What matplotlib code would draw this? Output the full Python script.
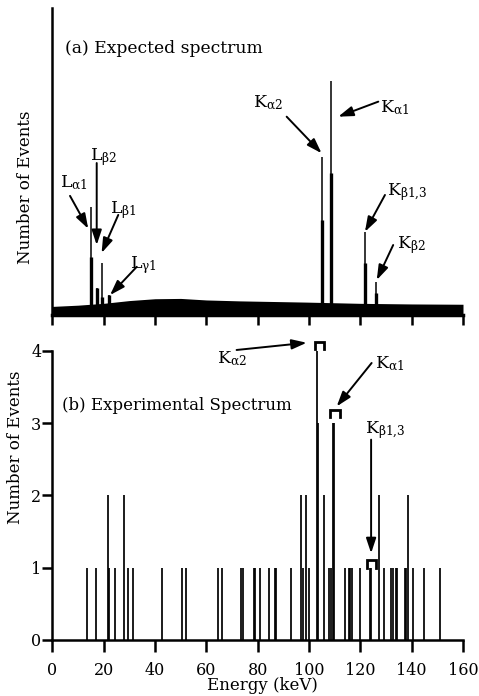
import matplotlib
matplotlib.use("Agg")
import matplotlib.pyplot as plt

plt.rcParams['font.family'] = ['DejaVu Serif']
plt.rcParams['mathtext.fontset'] = 'dejavuserif'
plt.rcParams['mathtext.default'] = 'regular'

# ---------------- data ----------------
# (a) expected spectrum: continuum and characteristic lines (arbitrary units)
continuum_energy = [0, 10, 20, 30, 40, 50, 60, 73, 99, 120, 140, 160]
continuum_level = [2.8, 3.2, 3.8, 4.7, 5.3, 5.4, 4.9, 4.6, 4.2, 3.8, 3.6, 3.5]

peak_names = ["La1", "Lb2", "Lb1", "Lg1", "Ka2", "Ka1", "Kb13", "Kb2"]
peak_energy = [15.1, 17.6, 19.2, 22.1, 105.2, 108.6, 121.8, 126.1]
peak_height = [35.3, 8.8, 16.8, 6.5, 51.6, 76.3, 27.1, 10.8]
peak_core_height = [19.0, 8.8, 6.0, 6.5, 30.9, 46.4, 16.8, 7.1]

# (b) experimental spectrum: energy of each bin with events, and counts
exp_energy = [13.5, 17.0, 21.7, 22.2, 24.3, 27.8, 29.5, 31.6, 42.6, 50.6, 52.2,
              64.7, 66.3, 73.7, 74.1, 78.7, 79.1, 81.0, 84.3, 86.7, 87.1, 93.1,
              97.0, 97.6, 98.7, 99.9, 103.1, 103.7, 106.0, 107.9, 108.4, 109.2,
              109.8, 114.0, 115.6, 116.1, 116.8, 119.7, 123.9, 124.2, 127.4,
              129.2, 131.9, 132.8, 133.9, 134.4, 137.4, 137.9, 138.7, 140.4,
              144.9, 151.0]
exp_counts = [1, 1, 2, 1, 1, 2, 1, 1, 1, 1, 1,
              1, 1, 1, 1, 1, 1, 1, 1, 1, 1, 1,
              2, 1, 2, 1, 4, 3, 2, 1, 1, 3,
              3, 1, 1, 1, 1, 1, 1, 1, 2,
              1, 1, 1, 1, 1, 1, 1, 2, 1,
              1, 1]

x_ticks = [0, 20, 40, 60, 80, 100, 120, 140, 160]
y_ticks_b = [0, 1, 2, 3, 4]

# labels for (a): text, text position, arrow tail, arrow head
a_labels = [r"L$_{\alpha1}$", r"L$_{\beta2}$", r"L$_{\beta1}$", r"L$_{\gamma1}$",
            r"K$_{\alpha2}$", r"K$_{\alpha1}$", r"K$_{\beta1{,}3}$", r"K$_{\beta2}$"]
a_text_xy = [(3.0, 41.7), (14.7, 50.5), (22.5, 33.2), (30.3, 15.3),
             (78.2, 67.8), (127.7, 66.1), (130.4, 39.1), (134.3, 21.8)]
a_tail = [(6.9, 38.8), (17.3, 49.5), (25.7, 32.6), (32.9, 15.7),
          (91.3, 64.6), (127.0, 69.5), (129.6, 39.1), (132.8, 22.8)]
a_head = [(14.0, 28.1), (17.3, 22.8), (19.2, 20.2), (22.5, 6.5),
          (104.9, 52.7), (111.4, 64.6), (121.8, 27.1), (126.4, 11.4)]

# labels for (b)
b_labels = [r"K$_{\alpha2}$", r"K$_{\alpha1}$", r"K$_{\beta1{,}3}$"]
b_text_xy = [(64.2, 3.83), (125.7, 3.76), (121.8, 2.86)]
b_tail = [(71.8, 4.01), (124.4, 3.83), (124.2, 2.77)]
b_head = [(99.1, 4.11), (110.8, 3.23), (124.2, 1.20)]
bracket_center = [104.1, 110.25, 124.4]
bracket_top = [4.12, 3.18, 1.10]

# ---------------- figure ----------------
W, H = 479, 696
fig = plt.figure(figsize=(W / 100, H / 100), dpi=100)
left = 52.3 / W
width = (463 - 52.3) / W
ax1 = fig.add_axes([left, 1 - 315 / H, width, 307 / H])
ax2 = fig.add_axes([left, 1 - 640 / H, width, (640 - 350.7) / H])

# ---- (a)
ax1.fill_between(continuum_energy, 0, continuum_level, color='black', lw=0)
ax1.vlines(peak_energy, 0, peak_height, color='black', lw=1.1)
ax1.vlines(peak_energy, 0, peak_core_height, color='black', lw=2.4)
ax1.set_xlim(0, 160)
ax1.set_ylim(0, 100)
ax1.set_xticks(x_ticks)
ax1.set_xticklabels([])
ax1.set_yticks([])
for s in ['top', 'right']:
    ax1.spines[s].set_visible(False)
ax1.spines['left'].set_linewidth(1.8)
ax1.spines['bottom'].set_linewidth(2.5)
ax1.tick_params(axis='x', direction='out', length=7, width=1.8)
ax1.text(5.0, 85.3, "(a) Expected spectrum", fontsize=12.3, va='baseline', ha='left')

arrow_kw = dict(arrowstyle='-|>,head_length=0.9,head_width=0.3', lw=1.4,
                color='black', shrinkA=0, shrinkB=0)
for lab, txy, tail, head in zip(a_labels, a_text_xy, a_tail, a_head):
    ax1.text(txy[0], txy[1], lab, fontsize=12.5, va='baseline', ha='left')
    ax1.annotate("", xy=head, xytext=tail, arrowprops=arrow_kw,
                 annotation_clip=False)

# ---- (b)
ax2.vlines(exp_energy, 0, exp_counts, color='black', lw=1.25, clip_on=False)
ax2.set_xlim(0, 160)
ax2.set_ylim(0, 4)
ax2.set_xticks(x_ticks)
ax2.set_yticks(y_ticks_b)
ax2.set_xticklabels([str(v) for v in x_ticks], fontsize=11.5)
ax2.set_yticklabels([str(v) for v in y_ticks_b], fontsize=11.5)
for s in ['top', 'right']:
    ax2.spines[s].set_visible(False)
ax2.spines['left'].set_linewidth(1.8)
ax2.spines['bottom'].set_linewidth(1.8)
ax2.tick_params(axis='x', direction='out', length=8.5, width=1.8, pad=7)
ax2.tick_params(axis='y', direction='out', length=7, width=1.8, pad=1)
ax2.text(3.8, 3.18, "(b) Experimental Spectrum", fontsize=12, va='baseline', ha='left')

for lab, txy, tail, head in zip(b_labels, b_text_xy, b_tail, b_head):
    ax2.text(txy[0], txy[1], lab, fontsize=12.5, va='baseline', ha='left')
    ax2.annotate("", xy=head, xytext=tail, arrowprops=arrow_kw,
                 annotation_clip=False)

half_w, leg = 1.9, 0.1
for c, t in zip(bracket_center, bracket_top):
    ax2.plot([c - half_w, c - half_w, c + half_w, c + half_w],
             [t - leg, t, t, t - leg], color='black', lw=2.0,
             solid_joinstyle='miter', clip_on=False)

fig.text(26 / W, 1 - 187 / H, "Number of Events", rotation=90, fontsize=12,
         ha='center', va='center')
fig.text(16 / W, 1 - 447 / H, "Number of Events", rotation=90, fontsize=12,
         ha='center', va='center')
fig.text(262 / W, 1 - 686 / H, "Energy (keV)", fontsize=12, ha='center', va='center')

fig.savefig("out.png", dpi=100)
